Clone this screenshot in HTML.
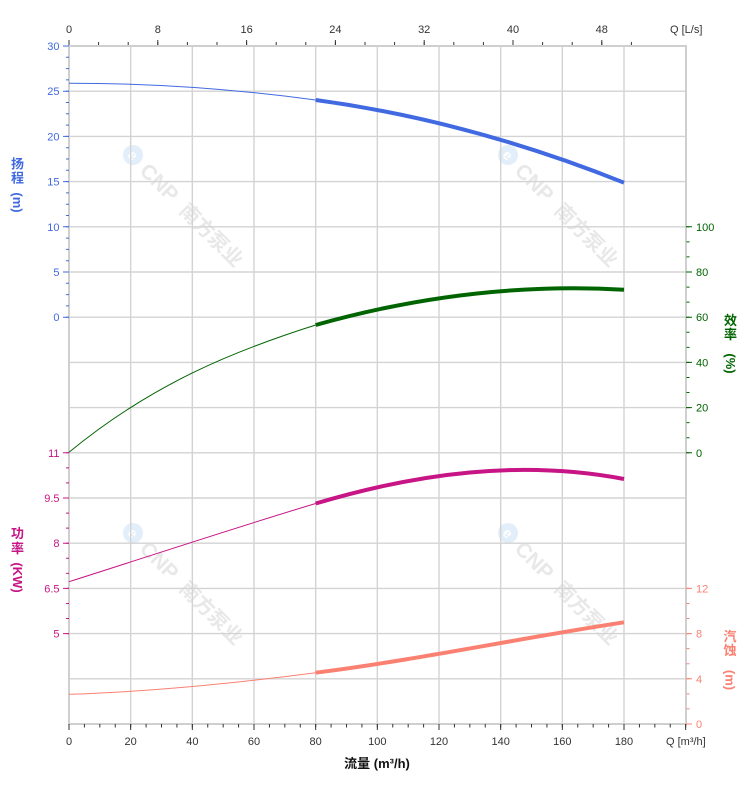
<!DOCTYPE html>
<html><head><meta charset="utf-8"><style>
html,body{margin:0;padding:0;background:#fff;}
svg{display:block;}
text{font-family:"Liberation Sans","Noto Sans CJK SC",sans-serif;}
</style></head><body>
<svg width="752" height="797" viewBox="0 0 752 797" xmlns="http://www.w3.org/2000/svg">
<rect width="752" height="797" fill="#fff"/>

<!-- watermarks -->
<defs>
  <g id="wm">
    <circle cx="0" cy="0" r="10" fill="#e2eef9"/>
    <text x="0" y="5" font-size="14" font-weight="bold" fill="#fff" text-anchor="middle">e</text>
    <text x="16" y="8" font-size="21" font-weight="bold" fill="#e8e8e8">CNP</text>
    <text x="72" y="8" font-size="20" font-weight="bold" fill="#e8e8e8" font-family="'Noto Sans CJK SC',sans-serif">南方泵业</text>
  </g>
</defs>
<use href="#wm" transform="translate(133,155) rotate(45)"/>
<use href="#wm" transform="translate(508,155) rotate(45)"/>
<use href="#wm" transform="translate(133,533) rotate(45)"/>
<use href="#wm" transform="translate(508,533) rotate(45)"/>

<!-- grid -->
<g stroke="#d3d3d3" stroke-width="1.4">
  <path d="M130.67,46V724M192.33,46V724M254,46V724M315.67,46V724M377.33,46V724M439,46V724M500.67,46V724M562.33,46V724M624,46V724"/>
  <path d="M69,91.2H686M69,136.4H686M69,181.6H686M69,226.8H686M69,272H686M69,317.2H686M69,362.4H686M69,407.6H686M69,452.8H686M69,498H686M69,543.2H686M69,588.4H686M69,633.6H686M69,678.8H686"/>
</g>
<!-- frame -->
<g stroke="#cfcfcf" stroke-width="2" fill="none">
  <path d="M69,46H686M69,724H686M69,45V725M686,45V725"/>
</g>

<!-- top ticks -->
<line x1="68.5" y1="43.5" x2="632" y2="43.5" stroke="#333" stroke-width="3" stroke-dasharray="1 28.6"/>
<line x1="68.5" y1="42.5" x2="603" y2="42.5" stroke="#333" stroke-width="5" stroke-dasharray="1 87.8"/>
<!-- bottom ticks -->
<line x1="68.5" y1="725.7" x2="687" y2="725.7" stroke="#333" stroke-width="3.5" stroke-dasharray="1 14.417"/>
<line x1="68.5" y1="727" x2="687" y2="727" stroke="#333" stroke-width="6" stroke-dasharray="1 60.667"/>

<!-- left head ticks -->
<line x1="67.5" y1="45.5" x2="67.5" y2="318" stroke="#4169E1" stroke-width="3" stroke-dasharray="1 10.3"/>
<line x1="66" y1="45.5" x2="66" y2="318" stroke="#4169E1" stroke-width="6" stroke-dasharray="1 44.2"/>
<!-- left power ticks -->
<line x1="67.5" y1="452.3" x2="67.5" y2="635" stroke="#C71585" stroke-width="3" stroke-dasharray="1 14.067"/>
<line x1="66" y1="452.3" x2="66" y2="635" stroke="#C71585" stroke-width="6" stroke-dasharray="1 44.2"/>
<!-- right efficiency ticks -->
<line x1="688" y1="226.3" x2="688" y2="454" stroke="#006400" stroke-width="3" stroke-dasharray="1 14.067"/>
<line x1="689" y1="226.3" x2="689" y2="454" stroke="#006400" stroke-width="6" stroke-dasharray="1 44.2"/>
<!-- right npsh ticks -->
<line x1="688" y1="587.9" x2="688" y2="725" stroke="#FA8072" stroke-width="3" stroke-dasharray="1 14.067"/>
<line x1="689" y1="587.9" x2="689" y2="725" stroke="#FA8072" stroke-width="6" stroke-dasharray="1 44.2"/>

<!-- curves -->
<g fill="none" stroke-linecap="butt">
  <path d="M69,83.2 Q192.35,83.2 315.7,100" stroke="#4169E1" stroke-width="1"/>
  <path d="M315.7,100 Q469.85,120.98 624,182.7" stroke="#4169E1" stroke-width="4"/>
  <path d="M69,452.3 C151.2,384.5 233.4,351 315.7,325" stroke="#006400" stroke-width="1"/>
  <path d="M315.7,325 C418.5,296 521.2,283.8 624,289.7" stroke="#006400" stroke-width="4"/>
  <path d="M69,581.7 C151.2,555.6 233.4,528.2 315.7,503.5" stroke="#C71585" stroke-width="1"/>
  <path d="M315.7,503.5 C418.5,472.8 521.2,459.6 624,479" stroke="#C71585" stroke-width="4"/>
  <path d="M69,694.3 C151.2,691.6 233.4,683.5 315.7,672.7" stroke="#FA8072" stroke-width="1"/>
  <path d="M315.7,672.7 C418.5,659.65 521.2,637.9 624,622.3" stroke="#FA8072" stroke-width="4"/>
</g>

<!-- top labels -->
<g font-size="11" fill="#333" text-anchor="middle">
  <text x="69" y="33">0</text>
  <text x="157.8" y="33">8</text>
  <text x="246.6" y="33">16</text>
  <text x="335.4" y="33">24</text>
  <text x="424.2" y="33">32</text>
  <text x="513" y="33">40</text>
  <text x="601.8" y="33">48</text>
</g>
<text x="670" y="33" font-size="11" fill="#333">Q [L/s]</text>

<!-- bottom labels -->
<g font-size="11" fill="#333" text-anchor="middle">
  <text x="69" y="745">0</text>
  <text x="130.67" y="745">20</text>
  <text x="192.33" y="745">40</text>
  <text x="254" y="745">60</text>
  <text x="315.67" y="745">80</text>
  <text x="377.33" y="745">100</text>
  <text x="439" y="745">120</text>
  <text x="500.67" y="745">140</text>
  <text x="562.33" y="745">160</text>
  <text x="624" y="745">180</text>
</g>
<text x="666" y="745" font-size="11" fill="#333">Q [m³/h]</text>
<text x="377" y="768" font-size="13" font-weight="bold" fill="#111" text-anchor="middle">流量 (m³/h)</text>

<!-- left head labels -->
<g font-size="11" fill="#4169E1" text-anchor="end">
  <text x="59.5" y="50">30</text>
  <text x="59.5" y="95.2">25</text>
  <text x="59.5" y="140.4">20</text>
  <text x="59.5" y="185.6">15</text>
  <text x="59.5" y="230.8">10</text>
  <text x="59.5" y="276">5</text>
  <text x="59.5" y="321.2">0</text>
</g>
<!-- left power labels -->
<g font-size="11" fill="#C71585" text-anchor="end">
  <text x="59.5" y="456.8">11</text>
  <text x="59.5" y="502">9.5</text>
  <text x="59.5" y="547.2">8</text>
  <text x="59.5" y="592.4">6.5</text>
  <text x="59.5" y="637.6">5</text>
</g>
<!-- right efficiency labels -->
<g font-size="11" fill="#006400">
  <text x="696" y="230.8">100</text>
  <text x="696" y="276">80</text>
  <text x="696" y="321.2">60</text>
  <text x="696" y="366.4">40</text>
  <text x="696" y="411.6">20</text>
  <text x="696" y="456.8">0</text>
</g>
<!-- right npsh labels -->
<g font-size="11" fill="#FA8072">
  <text x="696" y="592.4">12</text>
  <text x="696" y="637.6">8</text>
  <text x="696" y="682.8">4</text>
  <text x="696" y="728">0</text>
</g>

<!-- axis titles -->
<g font-size="13" font-weight="bold" text-anchor="middle">
  <g fill="#4169E1">
    <text x="17.5" y="168.5">扬</text>
    <text x="17.5" y="182.5">程</text>
    <text transform="translate(17.5,202.5) rotate(90)" x="0" y="4.5">(m)</text>
  </g>
  <g fill="#C71585">
    <text x="17.5" y="538">功</text>
    <text x="17.5" y="553">率</text>
    <text transform="translate(17.5,577.5) rotate(90)" x="0" y="4.5">(KW)</text>
  </g>
  <g fill="#006400">
    <text x="730.5" y="325">效</text>
    <text x="730.5" y="339">率</text>
    <text transform="translate(730.5,363.5) rotate(90)" x="0" y="4.5">(%)</text>
  </g>
  <g fill="#FA8072">
    <text x="730" y="641">汽</text>
    <text x="730" y="655">蚀</text>
    <text transform="translate(730,680) rotate(90)" x="0" y="4.5">(m)</text>
  </g>
</g>
</svg>
</body></html>
